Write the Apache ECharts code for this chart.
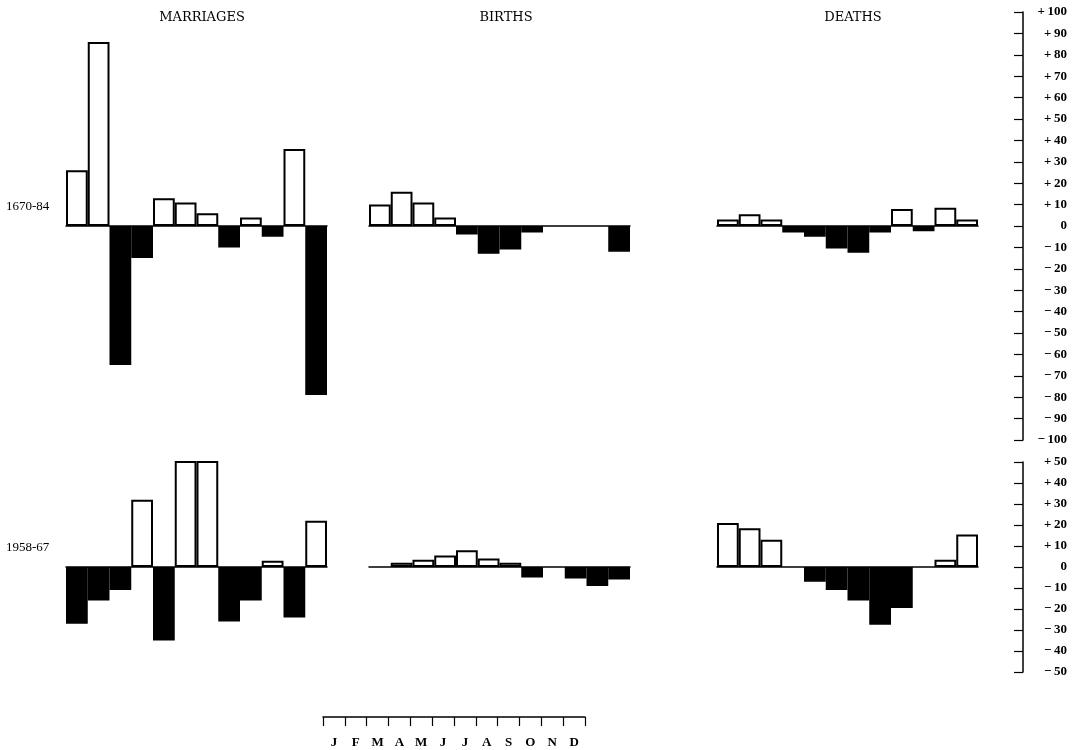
<!DOCTYPE html>
<html>
<head>
<meta charset="utf-8">
<script src="https://cdn.jsdelivr.net/npm/echarts@6/dist/echarts.min.js"></script>
<style>
html,body{margin:0;padding:0;background:#fff;}
#chart{width:1078px;height:750px;}
</style>
</head>
<body>
<div id="chart"></div>
<script>
const months = ['J','F','M','A','M','J','J','A','S','O','N','D'];
const panelTitles = ['MARRIAGES','BIRTHS','DEATHS'];
const periodLabels = ['1670-84','1958-67'];
const marriages1670 = [26, 86, -65, -15, 13, 11, 6, -10, 4, -5, 36, -79];
const births1670 = [10, 16, 11, 4, -4, -13, -11, -3, 0, 0, 0, -12];
const deaths1670 = [3, 5.5, 3, -3, -5, -10.5, -12.5, -3, 8, -2.5, 8.5, 3];
const marriages1958 = [-27, -16, -11, 32, -35, 51, 51, -26, -16, 3, -24, 22];
const births1958 = [0, 2, 3.5, 5.5, 8, 4, 2, -5, 0, -5.5, -9, -6];
const deaths1958 = [21, 18.5, 13, 0, -7, -11, -16, -27.5, -19.5, 0, 3.5, 15.5];
const scaleTop = {min: -100, max: 100, interval: 10};
const scaleBottom = {min: -50, max: 50, interval: 10};

const FONT = '"Liberation Serif", "DejaVu Serif", serif';
const TITLE_FONT = '"DejaVu Serif", "Liberation Serif", serif';
const colLefts = [66, 369, 717];
const colWidth = 261;
const rows = [{top: 12, height: 428}, {top: 462, height: 210}];
const rowData = [[marriages1670, births1670, deaths1670], [marriages1958, births1958, deaths1958]];
const rowScales = [scaleTop, scaleBottom];

function fmt(v) {
  if (v > 0) return '+\u2009' + v;
  if (v < 0) return '\u2212\u2009' + (-v);
  return '0';
}

const grids = [], xAxes = [], yAxes = [], series = [];
rows.forEach((r, ri) => {
  colLefts.forEach((l, ci) => {
    const idx = grids.length;
    grids.push({left: l, top: r.top, width: colWidth, height: r.height});
    xAxes.push({
      type: 'category', gridIndex: idx, data: months, boundaryGap: true,
      axisLine: {show: true, onZero: true, lineStyle: {color: '#000', width: 1.5}},
      axisTick: {show: false}, axisLabel: {show: false}, splitLine: {show: false}
    });
    const isScale = ci === 2;
    yAxes.push({
      type: 'value', gridIndex: idx,
      min: rowScales[ri].min, max: rowScales[ri].max, interval: rowScales[ri].interval,
      show: isScale, position: 'right', offset: 45,
      axisLine: {show: true, onZero: false, lineStyle: {color: '#000', width: 1.5}},
      axisTick: {show: true, inside: true, length: 9, lineStyle: {color: '#000', width: 1.2}},
      axisLabel: {show: true, formatter: fmt, align: 'right', margin: 44, color: '#000',
        fontFamily: FONT, fontSize: 13, fontWeight: 'bold'},
      splitLine: {show: false}
    });
    series.push({
      type: 'bar', xAxisIndex: idx, yAxisIndex: idx, barWidth: '100%', barCategoryGap: '0%',
      silent: true, animation: false,
      data: rowData[ri][ci].map(v => ({
        value: v,
        itemStyle: v > 0
          ? {color: '#fff', borderColor: '#000', borderWidth: 2}
          : (v < 0 ? {color: '#000', borderColor: '#000', borderWidth: 1.5} : {color: '#fff', borderWidth: 0})
      }))
    });
  });
});

// month scale
const mIdx = grids.length;
grids.push({left: 323, top: 690, width: 262, height: 27});
xAxes.push({
  type: 'category', gridIndex: mIdx, data: months, boundaryGap: true, position: 'bottom',
  axisLine: {show: true, lineStyle: {color: '#000', width: 1.5}},
  axisTick: {show: true, interval: 0, length: 9, lineStyle: {color: '#000', width: 1.2}},
  axisLabel: {show: true, interval: 0, margin: 19, color: '#000', fontFamily: FONT, fontSize: 13, fontWeight: 'bold'},
  splitLine: {show: false}
});
yAxes.push({type: 'value', gridIndex: mIdx, show: false, min: 0, max: 1});
series.push({type: 'bar', xAxisIndex: mIdx, yAxisIndex: mIdx, data: months.map(() => null), silent: true});

const titleCenters = [202, 506, 853];
const graphics = [];
panelTitles.forEach((t, i) => {
  graphics.push({type: 'text', x: titleCenters[i], y: 18,
    style: {text: t, fill: '#000', font: '13px ' + TITLE_FONT, textAlign: 'center', textVerticalAlign: 'middle', align: 'center', verticalAlign: 'middle'}});
});
const periodY = [207, 548];
periodLabels.forEach((t, i) => {
  graphics.push({type: 'text', x: 6, y: periodY[i],
    style: {text: t, fill: '#000', font: '13px ' + FONT, textAlign: 'left', textVerticalAlign: 'middle', align: 'left', verticalAlign: 'middle'}});
});

const chart = echarts.init(document.getElementById('chart'));
chart.setOption({
  animation: false,
  backgroundColor: '#fff',
  grid: grids, xAxis: xAxes, yAxis: yAxes, series: series,
  graphic: graphics
});
</script>
</body>
</html>
